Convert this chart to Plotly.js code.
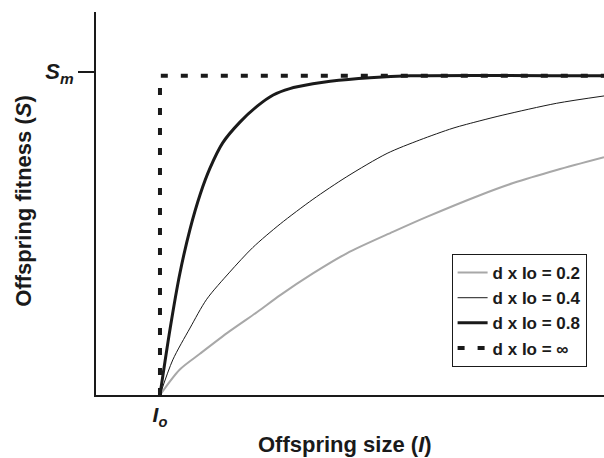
<!DOCTYPE html>
<html><head><meta charset="utf-8">
<script src="https://cdn.plot.ly/plotly-3.0.1.min.js"></script>
<style>body{margin:0;background:#fff}#c{width:604px;height:458px}</style>
</head><body><div id="c"></div>
<script>
// Offspring size in units of Io (Io = 1); fitness as fraction of Sm (Sm = 1)
const seriesNames = ["d x Io = 0.2", "d x Io = 0.4", "d x Io = 0.8", "d x Io = \u221e"];
const x02 = [1.0, 1.31, 1.63, 2.09, 2.52, 2.88, 3.39, 3.92, 4.64, 5.17, 6.0, 6.52, 7.20, 7.94];
const y02 = [0, 0.08, 0.13, 0.20, 0.26, 0.313, 0.381, 0.444, 0.511, 0.558, 0.626, 0.664, 0.705, 0.745];
const x04 = [1.0, 1.20, 1.47, 1.73, 2.09, 2.45, 2.88, 3.39, 3.92, 4.55, 5.06, 5.58, 6.0, 6.36, 7.20, 7.94];
const y04 = [0, 0.11, 0.21, 0.30, 0.385, 0.462, 0.536, 0.613, 0.684, 0.757, 0.799, 0.836, 0.859, 0.877, 0.914, 0.937];
const x08 = [1.0, 1.16, 1.31, 1.47, 1.63, 1.78, 1.98, 2.25, 2.52, 2.77, 3.03, 3.39, 3.66, 4.28, 4.91, 7.94];
const y08 = [0, 0.21, 0.38, 0.52, 0.63, 0.71, 0.79, 0.855, 0.905, 0.94, 0.96, 0.975, 0.983, 0.994, 1.0, 1.0];
const xInf = [1.0, 1.0, 7.94];
const yInf = [0, 1.0, 1.0];
const xTickVals = [1];
const xTickText = ["<b><i>I</i><sub><i>o</i></sub></b>"];
const yTickVals = [1.013];
const yTickText = ["<b><i>S</i><sub><i>m</i></sub></b>"];

const traces = [
  {x: x02, y: y02, name: seriesNames[0], mode: 'lines', line: {color: '#a8a8a8', width: 2, shape: 'spline', smoothing: 0.8}},
  {x: x04, y: y04, name: seriesNames[1], mode: 'lines', line: {color: '#1a1a1a', width: 1, shape: 'spline', smoothing: 0.8}},
  {x: x08, y: y08, name: seriesNames[2], mode: 'lines', line: {color: '#1a1a1a', width: 3, shape: 'spline', smoothing: 0.8}},
  {x: xInf, y: yInf, name: seriesNames[3], mode: 'lines', line: {color: '#1a1a1a', width: 4, dash: '7px,13px'}}
];
const F = 'Liberation Sans, Arial, sans-serif';
const layout = {
  width: 604, height: 458,
  margin: {l: 96, r: 0, t: 12, b: 63},
  paper_bgcolor: '#fff', plot_bgcolor: '#fff',
  showlegend: true,
  legend: {x: 0.700, y: 0.368, xanchor: 'left', yanchor: 'top', bgcolor: '#fff',
    bordercolor: '#1a1a1a', borderwidth: 1, font: {family: F, size: 17, color: '#1a1a1a', weight: 'bold'},
    traceorder: 'normal'},
  xaxis: {range: [0, 7.94], showgrid: false, zeroline: false, showline: true, linecolor: '#1a1a1a', linewidth: 2,
    tickvals: xTickVals, ticktext: xTickText, ticks: '', tickfont: {family: F, size: 21, color: '#1a1a1a'}, fixedrange: true},
  yaxis: {range: [0, 1.2], showgrid: false, zeroline: false, showline: true, linecolor: '#1a1a1a', linewidth: 2,
    tickvals: yTickVals, ticktext: yTickText, ticks: 'outside', ticklen: 16, tickwidth: 2, tickcolor: '#1a1a1a',
    tickfont: {family: F, size: 22, color: '#1a1a1a'}, fixedrange: true},
  annotations: [
    {text: '<b>Offspring size (<i>I</i>)</b>', xref: 'paper', yref: 'paper', x: 0.49, y: -0.128,
     xanchor: 'center', yanchor: 'middle', showarrow: false, font: {family: F, size: 22, color: '#1a1a1a'}},
    {text: '<b>Offspring fitness (<i>S</i>)</b>', xref: 'paper', yref: 'paper', x: -0.142, y: 0.507,
     xanchor: 'center', yanchor: 'middle', textangle: -90, showarrow: false, font: {family: F, size: 22, color: '#1a1a1a'}}
  ]
};
Plotly.newPlot('c', traces, layout, {displayModeBar: false, staticPlot: true});
</script></body></html>
